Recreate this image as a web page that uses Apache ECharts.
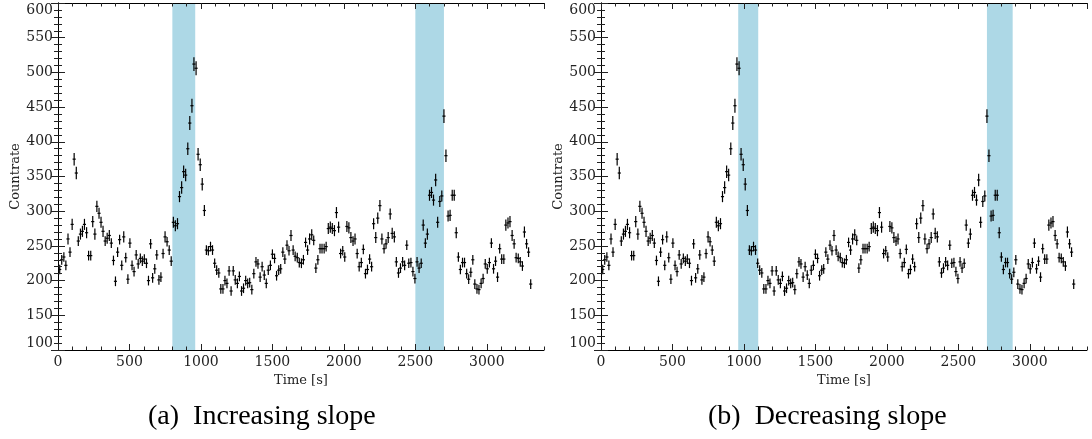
<!DOCTYPE html>
<html>
<head>
<meta charset="utf-8">
<script src="https://cdn.jsdelivr.net/npm/echarts@6/dist/echarts.min.js"></script>
<style>
html,body{margin:0;padding:0;background:#fff;}
#chart{width:1092px;height:439px;}
</style>
</head>
<body>
<div id="chart"></div>
<script>
// Bin centre times [s]
const times = [
  12,26,41,55,70,84,99,113,128,142,157,171,185,200,214,229,243,258,272,287,
  301,315,330,344,359,373,388,402,417,431,446,460,474,489,503,518,532,547,561,576,
  590,604,619,633,648,662,677,691,706,720,735,749,763,778,792,807,821,836,850,865,
  879,893,908,922,937,951,966,980,995,1009,1024,1038,1052,1067,1081,1096,1110,1125,1139,1154,
  1168,1182,1197,1211,1226,1240,1255,1269,1284,1298,1313,1327,1341,1356,1370,1385,1399,1414,1428,1443,
  1457,1471,1486,1500,1515,1529,1544,1558,1573,1587,1602,1616,1630,1645,1659,1674,1688,1703,1717,1732,
  1746,1760,1775,1789,1804,1818,1833,1847,1862,1876,1891,1905,1919,1934,1948,1963,1977,1992,2006,2021,
  2035,2049,2064,2078,2093,2107,2122,2136,2151,2165,2180,2194,2208,2223,2237,2252,2266,2281,2295,2310,
  2324,2338,2353,2367,2382,2396,2411,2425,2440,2454,2469,2483,2497,2512,2526,2541,2555,2570,2584,2599,
  2613,2627,2642,2656,2671,2685,2700,2714,2729,2743,2758,2772,2786,2801,2815,2830,2844,2859,2873,2888,
  2902,2916,2931,2945,2960,2974,2989,3003,3018,3032,3047,3061,3075,3090,3104,3119,3133,3148,3162,3177,
  3191,3205,3220,3234,3249,3263,3278,3292,3307
];
// Count rates
const rates = [
  216,230,234,222,260,241,281,375,355,257,
  267,271,281,269,236,236,285,267,307,297,
  284,271,257,261,265,254,229,199,241,259,
  222,263,233,202,254,222,213,237,224,232,
  228,231,225,200,253,204,217,237,201,205,
  239,263,256,244,228,284,279,282,321,334,
  357,352,390,427,452,512,506,382,367,339,
  301,244,243,249,244,225,215,211,188,188,
  200,196,214,185,214,201,196,206,185,189,
  200,196,197,187,210,227,224,205,220,208,
  196,215,222,238,232,207,215,217,241,231,
  251,243,265,244,235,233,226,225,230,255,
  244,260,266,258,218,230,246,246,246,249,
  275,277,275,272,298,277,239,243,234,278,
  276,262,257,260,239,220,226,245,210,216,
  231,220,282,262,290,308,260,246,253,262,
  296,268,263,227,211,218,227,222,251,225,
  226,213,203,227,218,225,280,254,267,323,
  327,316,345,284,314,322,437,380,293,294,
  323,323,269,234,216,226,226,210,202,212,
  230,195,188,187,196,203,224,217,226,254,
  217,228,205,246,231,231,280,283,285,265,
  253,233,232,227,221,270,253,241,195
];
// 1-sigma errors on the rates
const errors = [
  7,7,7,7,8,7,8,9,9,7,
  8,8,8,8,7,7,8,8,8,8,
  8,8,7,8,8,7,7,7,7,7,
  7,8,7,7,7,7,7,7,7,7,
  7,7,7,7,7,7,7,7,7,7,
  7,8,7,7,7,8,8,8,8,9,
  9,9,9,10,10,10,10,9,9,9,
  8,7,7,7,7,7,7,7,7,7,
  7,7,7,7,7,7,7,7,7,7,
  7,7,7,7,7,7,7,7,7,7,
  7,7,7,7,7,7,7,7,7,7,
  7,7,8,7,7,7,7,7,7,7,
  7,8,8,7,7,7,7,7,7,7,
  8,8,8,8,8,8,7,7,7,8,
  8,8,7,8,7,7,7,7,7,7,
  7,7,8,8,8,8,8,7,7,8,
  8,8,8,7,7,7,7,7,7,7,
  7,7,7,7,7,7,8,7,8,8,
  8,8,9,8,8,8,10,9,8,8,
  8,8,8,7,7,7,7,7,7,7,
  7,7,7,7,7,7,7,7,7,7,
  7,7,7,7,7,7,8,8,8,8,
  7,7,7,7,7,8,7,7,7
];
const binHalfWidth = 11;
// Highlighted intervals [start, end] in seconds
const bandsA = [[800, 960], [2500, 2700]];
const bandsB = [[960, 1100], [2700, 2880]];
const captions = ['(a)  Increasing slope', '(b)  Decreasing slope'];
const xLabel = 'Time [s]';
const yLabel = 'Countrate';

const points = times.map((t, i) => [t, rates[i], errors[i]]);

const tickFont = {fontFamily: 'DejaVu Serif', fontSize: 14, color: '#222'};
const plain = v => String(v);
const grids = [
  {left: 58, top: 3, width: 486, height: 347},
  {left: 601, top: 3, width: 486, height: 347}
];

const xAxes = [], yAxes = [], series = [];
[bandsA, bandsB].forEach((bands, g) => {
  const common = {gridIndex: g, type: 'value', min: 0, max: 3400, splitLine: {show: false}, z: 5};
  const majorTick = {show: true, inside: true, length: 6, lineStyle: {color: '#222', width: 1}};
  const minorTick = {show: true, inside: true, length: 3.5, lineStyle: {color: '#222', width: 1}};
  xAxes.push(Object.assign({}, common, {
    position: 'bottom', interval: 500,
    axisLine: {show: true, lineStyle: {color: '#000', width: 1}},
    axisTick: majorTick,
    axisLabel: Object.assign({margin: 5, showMaxLabel: false, formatter: plain}, tickFont),
    name: xLabel, nameLocation: 'middle', nameGap: 22,
    nameTextStyle: {fontFamily: 'DejaVu Serif', fontSize: 13, color: '#222'}
  }));
  xAxes.push(Object.assign({}, common, {
    position: 'bottom', interval: 100, axisLine: {show: false},
    axisTick: minorTick, axisLabel: {show: false}
  }));
  xAxes.push(Object.assign({}, common, {
    position: 'top', interval: 500,
    axisLine: {show: true, lineStyle: {color: '#000', width: 1}},
    axisTick: majorTick, axisLabel: {show: false}
  }));
  xAxes.push(Object.assign({}, common, {
    position: 'top', interval: 100, axisLine: {show: false},
    axisTick: minorTick, axisLabel: {show: false}
  }));

  const ycommon = {gridIndex: g, type: 'value', min: 100, max: 600, splitLine: {show: false}, z: 5};
  const yMajorTick = {show: true, inside: true, length: 7, lineStyle: {color: '#222', width: 1}};
  const yMinorTick = {show: true, inside: true, length: 4, lineStyle: {color: '#222', width: 1}};
  yAxes.push(Object.assign({}, ycommon, {
    position: 'left', interval: 50,
    axisLine: {show: true, lineStyle: {color: '#000', width: 1}},
    axisTick: yMajorTick,
    axisLabel: Object.assign({margin: 5, formatter: plain, verticalAlignMaxLabel: 'top', verticalAlignMinLabel: 'bottom'}, tickFont),
    name: yLabel, nameLocation: 'middle', nameGap: 36,
    nameTextStyle: {fontFamily: 'DejaVu Serif', fontSize: 13, color: '#222'}
  }));
  yAxes.push(Object.assign({}, ycommon, {
    position: 'left', interval: 10, axisLine: {show: false},
    axisTick: yMinorTick, axisLabel: {show: false}
  }));
  yAxes.push(Object.assign({}, ycommon, {
    position: 'right', interval: 50,
    axisLine: {show: true, lineStyle: {color: '#000', width: 1}},
    axisTick: yMajorTick, axisLabel: {show: false}
  }));
  yAxes.push(Object.assign({}, ycommon, {
    position: 'right', interval: 10, axisLine: {show: false},
    axisTick: yMinorTick, axisLabel: {show: false}
  }));

  series.push({
    type: 'custom', xAxisIndex: g * 4, yAxisIndex: g * 4, z: 1, silent: true,
    data: bands,
    renderItem: (params, api) => {
      const cs = params.coordSys;
      const x0 = api.coord([api.value(0), 100])[0];
      const x1 = api.coord([api.value(1), 100])[0];
      return {type: 'rect', shape: {x: x0, y: cs.y, width: x1 - x0, height: cs.height},
        style: {fill: '#add8e6'}};
    }
  });
  series.push({
    type: 'custom', xAxisIndex: g * 4, yAxisIndex: g * 4, z: 2, silent: true,
    data: points,
    renderItem: (params, api) => {
      const t = api.value(0), y = api.value(1), e = api.value(2);
      const a = api.coord([t, y + e]), b = api.coord([t, y - e]);
      const l = api.coord([t - binHalfWidth, y]), r = api.coord([t + binHalfWidth, y]);
      const st = {stroke: '#000', lineWidth: 1.2};
      return {type: 'group', children: [
        {type: 'line', shape: {x1: a[0], y1: a[1], x2: b[0], y2: b[1]}, style: st},
        {type: 'line', shape: {x1: l[0], y1: l[1], x2: r[0], y2: r[1]}, style: st}
      ]};
    }
  });
});

const chart = echarts.init(document.getElementById('chart'), null, {renderer: 'canvas'});
chart.setOption({
  animation: false,
  backgroundColor: '#fff',
  grid: grids,
  xAxis: xAxes,
  yAxis: yAxes,
  series: series,
  graphic: [
    {type: 'text', left: 148, top: 403, style: {text: captions[0], font: '28px "Liberation Serif"', fill: '#000'}},
    {type: 'text', left: 708, top: 403, style: {text: captions[1], font: '28px "Liberation Serif"', fill: '#000'}}
  ]
});
</script>
</body>
</html>
